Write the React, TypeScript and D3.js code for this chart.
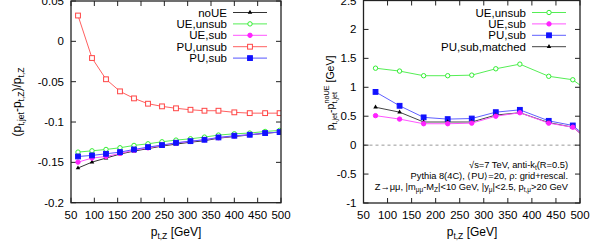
import { useEffect, useRef } from "react";
import * as d3 from "d3";

// left panel: relative response vs pt,Z
const ptLeft = [65, 95, 125, 155, 185, 215, 245, 275, 306, 336, 366, 400, 433, 466, 497];
const noUE = [-0.157, -0.1497, -0.1447, -0.1397, -0.136, -0.133, -0.1298, -0.1274, -0.125, -0.1232, -0.12, -0.118, -0.116, -0.114, -0.1125];
const ueUnsub = [-0.1373, -0.1357, -0.134, -0.1319, -0.129, -0.127, -0.1245, -0.1224, -0.1208, -0.1187, -0.1162, -0.1146, -0.1137, -0.1117, -0.1104];
const ueSub = [-0.1497, -0.1447, -0.1427, -0.139, -0.135, -0.132, -0.129, -0.126, -0.124, -0.122, -0.1195, -0.1174, -0.1158, -0.1137, -0.1125];
const puUnsub = [0.032, -0.0207, -0.047, -0.062, -0.0707, -0.0773, -0.0806, -0.083, -0.0848, -0.086, -0.086, -0.088, -0.089, -0.089, -0.089];
const puSub = [-0.1427, -0.1414, -0.1394, -0.1373, -0.134, -0.1311, -0.1286, -0.1257, -0.1237, -0.122, -0.1191, -0.117, -0.1158, -0.1137, -0.1125];

// right panel: pt shift w.r.t. noUE
const ptRight = [75, 125, 175, 225, 275, 325, 375, 435, 485, 545];
const ueUnsubR = [1.33, 1.28, 1.2, 1.2, 1.21, 1.32, 1.4, 1.19, 1.13, 0.76];
const ueSubR = [0.51, 0.45, 0.37, 0.37, 0.38, 0.5, 0.56, 0.38, 0.31, -0.1];
const puSubR = [0.92, 0.68, 0.48, 0.45, 0.46, 0.57, 0.61, 0.42, 0.34, -0.08];
const matchedR = [0.655, 0.57, 0.4, 0.4, 0.4, 0.52, 0.56, 0.39, 0.31, -0.1];

const xTicks = [50, 100, 150, 200, 250, 300, 350, 400, 450, 500];
const yTicksLeft = [0.05, 0, -0.05, -0.1, -0.15, -0.2];
const yTicksRight = [2.5, 2, 1.5, 1, 0.5, 0, -0.5, -1];

type Marker = "tri" | "circle" | "dot" | "square" | "fsquare";
type Series = { name: string; values: number[]; color: string; line: string; marker: Marker };

const FONT = "'Liberation Sans', Arial, Helvetica, sans-serif";

function drawMarker(g: d3.Selection<SVGGElement, unknown, null, undefined>, x: number, y: number, s: Series) {
  if (s.marker === "tri") {
    g.append("path")
      .attr("d", d3.symbol().type(d3.symbolTriangle).size(9)())
      .attr("transform", `translate(${x},${y})`)
      .attr("fill", s.color);
  } else if (s.marker === "circle" || s.marker === "dot") {
    g.append("circle")
      .attr("cx", x)
      .attr("cy", y)
      .attr("r", 2.2)
      .attr("fill", s.marker === "dot" ? s.color : "white")
      .attr("stroke", s.color)
      .attr("stroke-width", 1);
  } else {
    const open = s.marker === "square";
    g.append("rect")
      .attr("x", x - 2.4)
      .attr("y", y - 2.4)
      .attr("width", 4.8)
      .attr("height", 4.8)
      .attr("fill", open ? "white" : s.color)
      .attr("stroke", s.color)
      .attr("stroke-width", 1);
  }
}

const legendRank: Record<string, number> = {
  noUE: 0,
  "UE,unsub": 1,
  "UE,sub": 2,
  "PU,unsub": 3,
  "PU,sub": 4,
  "PU,sub,matched": 5,
};

function panel(
  svg: d3.Selection<SVGSVGElement, unknown, null, undefined>,
  id: string,
  box: { left: number; right: number; top: number; bottom: number },
  yDomain: [number, number],
  yTicks: number[],
  xs: number[],
  series: Series[],
  legendX: number,
  zeroLine = false
) {
  const x = d3.scaleLinear().domain([50, 500]).range([box.left, box.right]);
  const y = d3.scaleLinear().domain(yDomain).range([box.bottom, box.top]);
  const g = svg.append("g");

  g.append("clipPath")
    .attr("id", id)
    .append("rect")
    .attr("x", box.left)
    .attr("y", box.top)
    .attr("width", box.right - box.left)
    .attr("height", box.bottom - box.top);

  if (zeroLine) {
    g.append("line")
      .attr("x1", box.left)
      .attr("x2", box.right)
      .attr("y1", y(0))
      .attr("y2", y(0))
      .attr("stroke", "#999")
      .attr("stroke-width", 1)
      .attr("stroke-dasharray", "3,3");
  }

  // ticks on all four sides, pointing inwards
  const tk = g.append("g").attr("stroke", "#222").attr("stroke-width", 1);
  xTicks.forEach((t) => {
    tk.append("line").attr("x1", x(t)).attr("x2", x(t)).attr("y1", box.bottom).attr("y2", box.bottom - 5);
    tk.append("line").attr("x1", x(t)).attr("x2", x(t)).attr("y1", box.top).attr("y2", box.top + 5);
  });
  yTicks.forEach((t) => {
    tk.append("line").attr("x1", box.left).attr("x2", box.left + 5).attr("y1", y(t)).attr("y2", y(t));
    tk.append("line").attr("x1", box.right).attr("x2", box.right - 5).attr("y1", y(t)).attr("y2", y(t));
  });

  g.selectAll(".xl")
    .data(xTicks)
    .join("text")
    .attr("x", (d) => x(d))
    .attr("y", box.bottom + 16)
    .attr("text-anchor", "middle")
    .attr("font-size", 11.5)
    .text((d) => String(d));

  g.selectAll(".yl")
    .data(yTicks)
    .join("text")
    .attr("x", box.left - 7)
    .attr("y", (d) => y(d) + 4)
    .attr("text-anchor", "end")
    .attr("font-size", 11.5)
    .text((d) => String(d));

  const plot = g.append("g").attr("clip-path", `url(#${id})`);
  series.forEach((s) => {
    const pts = xs.map((v, i) => [x(v), y(s.values[i])] as [number, number]);
    plot.append("path")
      .attr("d", d3.line()(pts))
      .attr("fill", "none")
      .attr("stroke", s.line)
      .attr("stroke-width", 1);
    const mg = plot.append("g");
    pts.forEach(([px, py]) => drawMarker(mg, px, py, s));
  });

  // legend
  series
    .slice()
    .sort((a, b) => (legendRank[a.name] ?? 9) - (legendRank[b.name] ?? 9))
    .forEach((s, i) => {
      const cy = 12.5 + i * 11.4;
      g.append("text")
        .attr("x", legendX)
        .attr("y", cy + 4)
        .attr("text-anchor", "end")
        .attr("font-size", 11.5)
        .text(s.name);
      g.append("line")
        .attr("x1", legendX + 6)
        .attr("x2", legendX + 40)
        .attr("y1", cy)
        .attr("y2", cy)
        .attr("stroke", s.line)
        .attr("stroke-width", 1);
      drawMarker(g, legendX + 23, cy, s);
    });

  g.append("rect")
    .attr("x", box.left)
    .attr("y", box.top)
    .attr("width", box.right - box.left)
    .attr("height", box.bottom - box.top)
    .attr("fill", "none")
    .attr("stroke", "#222")
    .attr("stroke-width", 1.3);

  return { x, y, g };
}

export default function App() {
  const svgRef = useRef<SVGSVGElement | null>(null);

  useEffect(() => {
    const el = svgRef.current;
    if (!el) return;
    el.innerHTML = "";
    const svg = d3.select(el).attr("font-family", FONT).attr("fill", "#000");

    const black = "#000000";
    const green = "#33ee33";
    const magenta = "#ff22ff";
    const red = "#ff4444";
    const blue = "#1111ff";

    const leftSeries: Series[] = [
      { name: "PU,unsub", values: puUnsub, color: red, line: "#ff6060", marker: "square" },
      { name: "UE,unsub", values: ueUnsub, color: green, line: "#55ee55", marker: "circle" },
      { name: "noUE", values: noUE, color: black, line: "#333", marker: "tri" },
      { name: "UE,sub", values: ueSub, color: magenta, line: "#ff55ff", marker: "dot" },
      { name: "PU,sub", values: puSub, color: blue, line: "#5555ff", marker: "fsquare" },
    ];
    panel(svg, "clipL", { left: 71, right: 281, top: 1, bottom: 202.7 }, [-0.2, 0.05], yTicksLeft, ptLeft, leftSeries, 227);

    const rightSeries: Series[] = [
      { name: "UE,unsub", values: ueUnsubR, color: green, line: "#55ee55", marker: "circle" },
      { name: "PU,sub", values: puSubR, color: blue, line: "#6060ff", marker: "fsquare" },
      { name: "PU,sub,matched", values: matchedR, color: black, line: "#444", marker: "tri" },
      { name: "UE,sub", values: ueSubR, color: magenta, line: "#ff55ff", marker: "dot" },
    ];
    panel(svg, "clipR", { left: 363.5, right: 580, top: 0.5, bottom: 203 }, [-1, 2.5], yTicksRight, ptRight, rightSeries, 526, true);

    // annotations
    const ann = svg.append("g").attr("font-size", 9.3).attr("text-anchor", "end");
    const a1 = ann.append("text").attr("x", 568).attr("y", 168);
    a1.append("tspan").text("√s=7 TeV, anti-k");
    a1.append("tspan").attr("dy", 2).attr("font-size", 6.5).text("t");
    a1.append("tspan").attr("dy", -2).text("(R=0.5)");
    ann.append("text").attr("x", 568).attr("y", 179).text("Pythia 8(4C), ⟨PU⟩=20, ρ: grid+rescal.");
    const a3 = ann.append("text").attr("x", 568).attr("y", 189.5);
    a3.append("tspan").text("Z→μμ, |m");
    a3.append("tspan").attr("dy", 2).attr("font-size", 6.5).text("μμ");
    a3.append("tspan").attr("dy", -2).text("-M");
    a3.append("tspan").attr("dy", 2).attr("font-size", 6.5).text("Z");
    a3.append("tspan").attr("dy", -2).text("|<10 GeV, |y");
    a3.append("tspan").attr("dy", 2).attr("font-size", 6.5).text("μ");
    a3.append("tspan").attr("dy", -2).text("|<2.5, p");
    a3.append("tspan").attr("dy", 2).attr("font-size", 6.5).text("t,μ");
    a3.append("tspan").attr("dy", -2).text(">20 GeV");

    // axis titles
    const xTitle = (cx: number) => {
      const t = svg.append("text").attr("x", cx).attr("y", 236).attr("text-anchor", "middle").attr("font-size", 12);
      t.append("tspan").text("p");
      t.append("tspan").attr("dy", 3).attr("font-size", 8.5).text("t,Z");
      t.append("tspan").attr("dy", -3).text(" [GeV]");
    };
    xTitle(176);
    xTitle(472);

    const yl = svg.append("text")
      .attr("transform", "translate(21,102) rotate(-90)")
      .attr("text-anchor", "middle")
      .attr("font-size", 12);
    yl.append("tspan").text("(p");
    yl.append("tspan").attr("dy", 3).attr("font-size", 8.5).text("t,jet");
    yl.append("tspan").attr("dy", -3).text("-p");
    yl.append("tspan").attr("dy", 3).attr("font-size", 8.5).text("t,Z");
    yl.append("tspan").attr("dy", -3).text(")/p");
    yl.append("tspan").attr("dy", 3).attr("font-size", 8.5).text("t,Z");

    const yr = svg.append("text")
      .attr("transform", "translate(334,93) rotate(-90)")
      .attr("text-anchor", "middle")
      .attr("font-size", 10.5);
    yr.append("tspan").text("p");
    yr.append("tspan").attr("dy", 3).attr("font-size", 7.2).text("t,jet");
    yr.append("tspan").attr("dy", -3).text("-p");
    yr.append("tspan").attr("dy", 3).attr("font-size", 7.2).text("t,jet");
    yr.append("tspan").attr("dx", -11.5).attr("dy", -8.5).attr("font-size", 7.2).text("noUE");
    yr.append("tspan").attr("dy", 5.5).attr("dx", 3).text("[GeV]");
  }, []);

  return (
    <svg
      ref={svgRef}
      width={598}
      height={252}
      style={{ position: "absolute", left: 0, top: 0, background: "white" }}
    />
  );
}
